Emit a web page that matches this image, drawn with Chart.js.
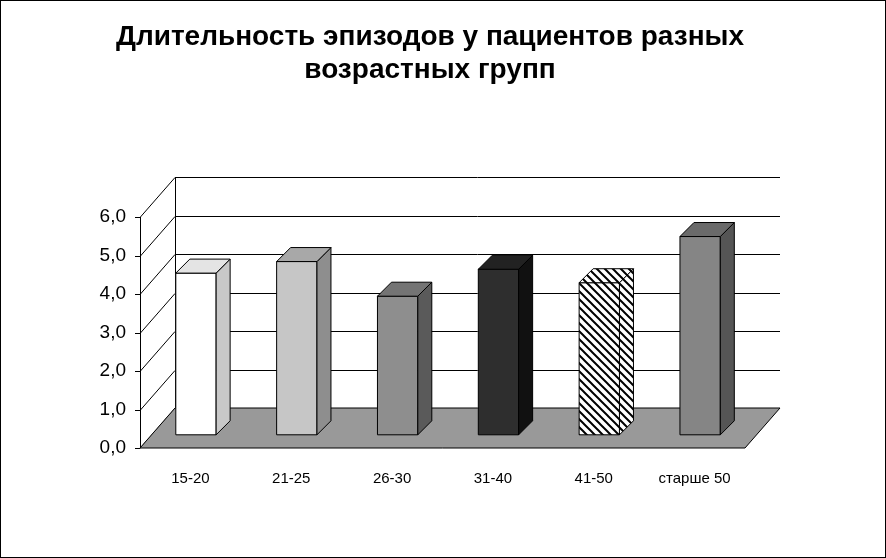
<!DOCTYPE html>
<html><head><meta charset="utf-8">
<script src="https://cdn.jsdelivr.net/npm/chart.js@4"></script>
<style>html,body{margin:0;background:#fff}#wrap{width:886px;height:558px;position:relative}</style>
</head><body><div id="wrap"><canvas id="c"></canvas></div>
<script>
const categories = ['15-20', '21-25', '26-30', '31-40', '41-50', 'старше 50'];
const durations = [4.2, 4.5, 3.6, 4.3, 3.95, 5.15];
const yTicks = [0, 1, 2, 3, 4, 5, 6];
const titleLines = ['Длительность эпизодов у пациентов разных', 'возрастных групп'];

// face colours: front, side, top
const faces = [
    ['#ffffff', '#c8c8c8', '#e4e4e4'],
    ['#c6c6c6', '#8e8e8e', '#a8a8a8'],
    ['#8e8e8e', '#5a5a5a', '#747474'],
    ['#2e2e2e', '#111111', '#222222'],
    ['hatch', 'hatch', 'hatch'],
    ['#858585', '#555555', '#6a6a6a']
];

function hatch(ctx) {
    const p = document.createElement('canvas');
    p.width = 8; p.height = 8;
    const g = p.getContext('2d');
    g.fillStyle = '#fff'; g.fillRect(0, 0, 8, 8);
    g.strokeStyle = '#000'; g.lineWidth = 2;
    g.beginPath();
    g.moveTo(0, 0); g.lineTo(8, 8);
    g.moveTo(-4, 4); g.lineTo(4, 12);
    g.moveTo(4, -4); g.lineTo(12, 4);
    g.stroke();
    return ctx.createPattern(p, 'repeat');
}

function poly(ctx, pts, fill) {
    ctx.beginPath();
    ctx.moveTo(pts[0][0], pts[0][1]);
    pts.slice(1).forEach(p => ctx.lineTo(p[0], p[1]));
    ctx.closePath();
    ctx.fillStyle = fill;
    ctx.fill();
    ctx.stroke();
}

const DX = 35, DY = -40;   // floor depth
const BX = 14, BY = -14;   // bar depth

const threeD = {
    id: 'threeD',
    beforeDatasetsDraw(chart) {
        const ctx = chart.ctx, x = chart.scales.x, y = chart.scales.y;
        const l = x.left, r = x.right, b = y.bottom;
        ctx.save();
        ctx.fillStyle = '#000';
        ctx.font = 'bold 28px "Liberation Sans", Arial';
        ctx.textAlign = 'center';
        ctx.fillText(titleLines[0], 430, 45);
        ctx.fillText(titleLines[1], 430, 78);
        ctx.strokeStyle = '#000'; ctx.lineWidth = 1;
        ctx.strokeRect(0.5, 0.5, 885, 557);
        // gridlines on back wall + left wall
        yTicks.forEach(v => {
            const py = Math.round(y.getPixelForValue(v)) + 0.5;
            ctx.beginPath();
            ctx.moveTo(l, py); ctx.lineTo(l + DX, py + DY); ctx.lineTo(r + DX, py + DY);
            ctx.stroke();
            ctx.beginPath(); ctx.moveTo(l - 5, py); ctx.lineTo(l, py); ctx.stroke();
        });
        ctx.beginPath();
        ctx.moveTo(l + 0.5, b); ctx.lineTo(l + 0.5, y.top);
        ctx.moveTo(l + DX + 0.5, b + DY); ctx.lineTo(l + DX + 0.5, y.top + DY);
        ctx.stroke();
        // floor
        poly(ctx, [[l, b], [r, b], [r + DX, b + DY], [l + DX, b + DY]], '#999999');
        ctx.restore();
    },
    afterDatasetsDraw(chart) {
        const ctx = chart.ctx;
        const meta = chart.getDatasetMeta(0);
        const pat = hatch(ctx);
        const f = 0.33;
        ctx.save();
        ctx.strokeStyle = '#000'; ctx.lineWidth = 1;
        meta.data.forEach((bar, i) => {
            const w = bar.width;
            const x0 = bar.x - w / 2 + DX * f - 6, x1 = x0 + w;
            const yb = bar.base + DY * f, yt = bar.y + DY * f;
            const c = faces[i].map(s => s === 'hatch' ? pat : s);
            poly(ctx, [[x0, yb], [x1, yb], [x1, yt], [x0, yt]], c[0]);
            poly(ctx, [[x1, yb], [x1 + BX, yb + BY], [x1 + BX, yt + BY], [x1, yt]], c[1]);
            poly(ctx, [[x0, yt], [x1, yt], [x1 + BX, yt + BY], [x0 + BX, yt + BY]], c[2]);
        });
        ctx.restore();
    }
};

new Chart(document.getElementById('c'), {
    type: 'bar',
    data: {
        labels: categories,
        datasets: [{ data: durations, backgroundColor: 'rgba(0,0,0,0)', categoryPercentage: 1, barPercentage: 0.4 }]
    },
    options: {
        responsive: true, maintainAspectRatio: false, animation: false,
        layout: { padding: { top: 217, right: 141, left: 0, bottom: 0 } },
        plugins: { legend: { display: false }, tooltip: { enabled: false } },
        scales: {
            x: {
                grid: { display: false }, border: { display: false },
                ticks: { color: '#000', font: { size: 15, family: '"Liberation Sans", Arial' }, padding: 14 },
                afterFit: a => { a.height = 110; }
            },
            y: {
                min: 0, max: 6,
                grid: { display: false, drawTicks: false }, border: { display: false },
                ticks: {
                    stepSize: 1, color: '#000', padding: 14,
                    font: { size: 19, family: '"Liberation Sans", Arial' },
                    callback: v => v.toFixed(1).replace('.', ',')
                },
                afterFit: a => { a.width = 140; }
            }
        }
    },
    plugins: [threeD]
});
</script></body></html>
